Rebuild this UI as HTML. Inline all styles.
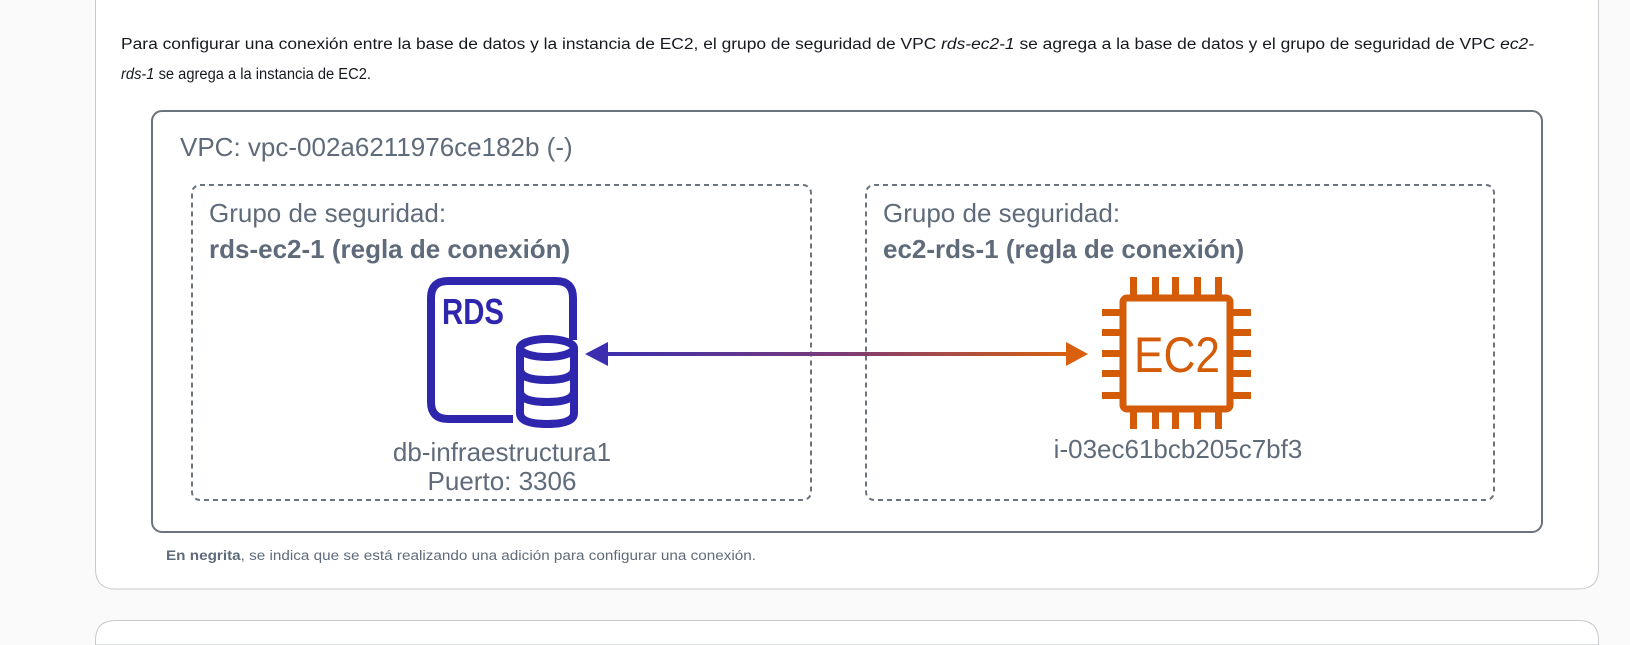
<!DOCTYPE html>
<html><head><meta charset="utf-8"><style>
html,body{margin:0;padding:0;background:#fafafa;width:1630px;height:645px;overflow:hidden;}
svg{display:block;font-family:"Liberation Sans",sans-serif;}
</style></head><body>
<svg width="1630" height="645" viewBox="0 0 1630 645" xmlns="http://www.w3.org/2000/svg">
<defs>
<linearGradient id="g" x1="0" x2="1" y1="0" y2="0">
<stop offset="0" stop-color="#3b2fb0"/><stop offset="0.5" stop-color="#7a3a78"/><stop offset="1" stop-color="#d8600f"/>
</linearGradient>
</defs>
<rect x="0" y="0" width="1630" height="645" fill="#fafafa"/>
<path d="M95.5 0 V569 Q95.5 589 115.5 589 H1578.5 Q1598.5 589 1598.5 569 V0" fill="#fff" stroke="#c6c9cd"/>
<path d="M95.5 645 V640.5 Q95.5 620.5 115.5 620.5 H1578.5 Q1598.5 620.5 1598.5 640.5 V645 Z" fill="#fff" stroke="#c6c9cd"/>
<g font-size="15.5" fill="#16191f">
<text x="121" y="49" textLength="1413" lengthAdjust="spacingAndGlyphs">Para configurar una conexión entre la base de datos y la instancia de EC2, el grupo de seguridad de VPC <tspan font-style="italic">rds-ec2-1</tspan> se agrega a la base de datos y el grupo de seguridad de VPC <tspan font-style="italic">ec2-</tspan></text>
<text x="121" y="79" textLength="250" lengthAdjust="spacingAndGlyphs"><tspan font-style="italic">rds-1</tspan> se agrega a la instancia de EC2.</text>
</g>
<rect x="152" y="111" width="1390" height="421" rx="10" fill="#fff" stroke="#6b737c" stroke-width="2"/>
<text x="180" y="156" font-size="26" fill="#5f6b7a">VPC: vpc-002a6211976ce182b (-)</text>
<rect x="192" y="185" width="619" height="315" rx="8" fill="none" stroke="#6b737c" stroke-width="2" stroke-dasharray="5,4"/>
<rect x="866" y="185" width="628" height="315" rx="8" fill="none" stroke="#6b737c" stroke-width="2" stroke-dasharray="5,4"/>
<text x="209" y="222" font-size="26" fill="#5f6b7a">Grupo de seguridad:</text>
<text x="209" y="258" font-size="26" font-weight="bold" fill="#5f6b7a">rds-ec2-1 (regla de conexión)</text>
<text x="883" y="222" font-size="26" fill="#5f6b7a">Grupo de seguridad:</text>
<text x="883" y="258" font-size="26" font-weight="bold" fill="#5f6b7a">ec2-rds-1 (regla de conexión)</text>
<g stroke="#2e27ad" stroke-width="8" fill="none">
<path d="M513 419 H448 Q431 419 431 402 V298 Q431 281 448 281 H556 Q573 281 573 298 V340"/>
<ellipse cx="547" cy="348" rx="27" ry="9"/>
<path d="M520 348 V413 Q520 424 547 424 Q574 424 574 413 V348"/>
<path d="M520 369 Q520 380 547 380 Q574 380 574 369"/>
<path d="M520 391 Q520 402 547 402 Q574 402 574 391"/>
</g>
<text x="442" y="324" font-size="36" font-weight="bold" fill="#2e27ad" textLength="62" lengthAdjust="spacingAndGlyphs">RDS</text>
<text x="502" y="461" font-size="26" fill="#5f6b7a" text-anchor="middle">db-infraestructura1</text>
<text x="502" y="490" font-size="26" fill="#5f6b7a" text-anchor="middle">Puerto: 3306</text>
<rect x="600" y="352" width="470" height="4" fill="url(#g)"/>
<polygon points="585,354 608,342 608,366" fill="#3b2fb0"/>
<polygon points="1088,354 1066,342 1066,366" fill="#d8600f"/>
<g fill="#d45b07">
<rect x="1123" y="298" width="107" height="111" rx="4" fill="none" stroke="#d45b07" stroke-width="7"/>
<g><rect x="1130" y="277" width="7" height="18"/><rect x="1152" y="277" width="7" height="18"/><rect x="1172" y="277" width="7" height="18"/><rect x="1194" y="277" width="7" height="18"/><rect x="1215" y="277" width="7" height="18"/></g>
<g><rect x="1130" y="412" width="7" height="17"/><rect x="1152" y="412" width="7" height="17"/><rect x="1172" y="412" width="7" height="17"/><rect x="1194" y="412" width="7" height="17"/><rect x="1215" y="412" width="7" height="17"/></g>
<g><rect x="1102" y="309" width="18" height="7"/><rect x="1102" y="329" width="18" height="7"/><rect x="1102" y="350" width="18" height="7"/><rect x="1102" y="370" width="18" height="7"/><rect x="1102" y="392" width="18" height="7"/></g>
<g><rect x="1233" y="309" width="18" height="7"/><rect x="1233" y="329" width="18" height="7"/><rect x="1233" y="350" width="18" height="7"/><rect x="1233" y="370" width="18" height="7"/><rect x="1233" y="392" width="18" height="7"/></g>
</g>
<text x="1177" y="372" font-size="50" fill="#d45b07" text-anchor="middle" textLength="86" lengthAdjust="spacingAndGlyphs">EC2</text>
<text x="1178" y="458" font-size="26" fill="#5f6b7a" text-anchor="middle">i-03ec61bcb205c7bf3</text>
<text x="166" y="560" font-size="13.5" fill="#5f6b7a" textLength="590" lengthAdjust="spacingAndGlyphs"><tspan font-weight="bold">En negrita</tspan>, se indica que se está realizando una adición para configurar una conexión.</text>
</svg>
</body></html>
